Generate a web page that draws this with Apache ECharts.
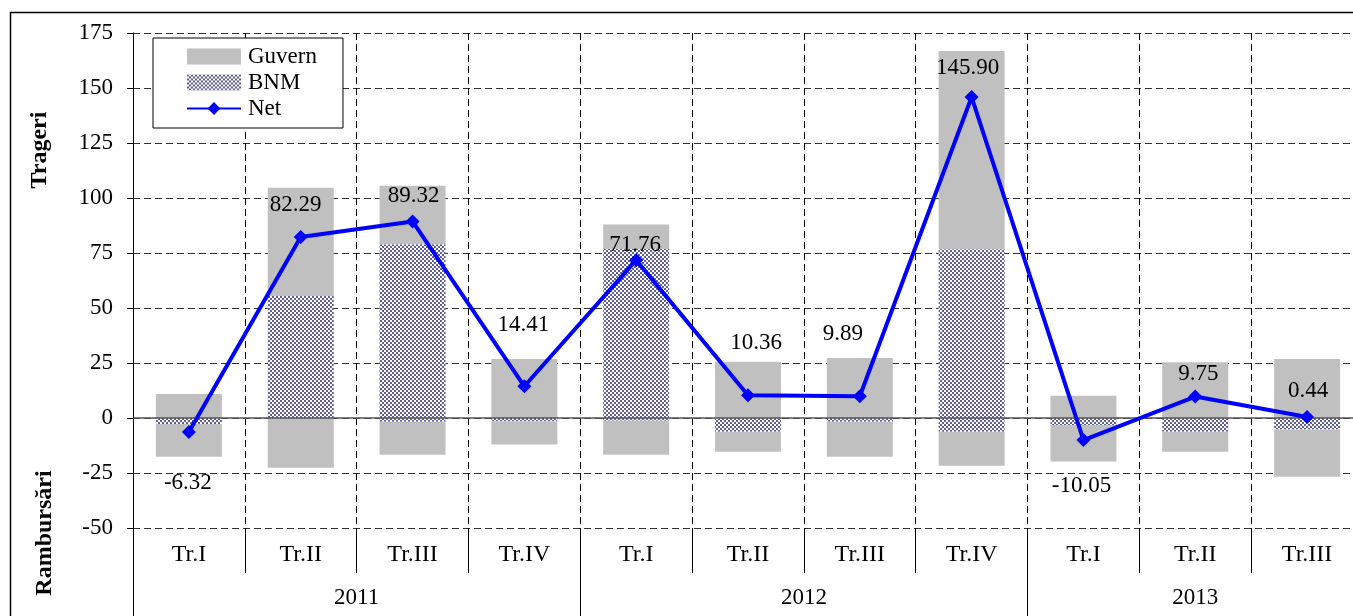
<!DOCTYPE html>
<html>
<head>
<meta charset="utf-8">
<script src="https://cdn.jsdelivr.net/npm/echarts@6/dist/echarts.min.js"></script>
<style>
  html, body { margin: 0; padding: 0; background: #fff; overflow: hidden; }
  #chart { width: 1372px; height: 616px; }
</style>
</head>
<body>
<div id="chart"></div>
<script>
const quarters = ['Tr.I', 'Tr.II', 'Tr.III', 'Tr.IV', 'Tr.I', 'Tr.II', 'Tr.III', 'Tr.IV', 'Tr.I', 'Tr.II', 'Tr.III']
const years = ['2011', '2012', '2013']
const quartersPerYear = [4, 4, 3]

// stacked from zero: BNM first, Guvern on top
const bnmTrageri = [0, 55.5, 79.0, 0, 76.8, 0, 0, 76.7, 0, 0, 0]
const guvernTrageri = [10.9, 49.2, 26.6, 26.8, 11.2, 25.6, 27.3, 90.1, 10.1, 25.3, 26.8]
const bnmRambursari = [-2.7, 0, -1.7, -1.5, -1.2, -6.2, -1.7, -6.2, -3.2, -6.2, -5.2]
const guvernRambursari = [-14.9, -22.6, -15.0, -10.6, -15.5, -9.1, -15.9, -15.5, -16.6, -9.1, -21.5]
const net = [-6.32, 82.29, 89.32, 14.41, 71.76, 10.36, 9.89, 145.90, -10.05, 9.75, 0.44]

const yTicks = { min: -50, max: 175, step: 25 }

// label placement next to each Net point (px)
const netLabelShift = [[-1, 51], [-5, -32], [1, -26], [-1, -61], [-1, -15], [8, -52], [-17, -62], [-4, -29], [-2, 46], [3, -23], [1, -26]]

const font = '"Liberation Serif", "Times New Roman", serif'

function checkerPattern() {
  const c = document.createElement('canvas')
  c.width = 4
  c.height = 4
  const ctx = c.getContext('2d')
  ctx.fillStyle = '#ffffff'
  ctx.fillRect(0, 0, 4, 4)
  ctx.fillStyle = '#5f5f9c'
  ctx.fillRect(0, 0, 2, 2)
  ctx.fillRect(2, 2, 2, 2)
  return { image: c, repeat: 'repeat' }
}
const bnmFill = checkerPattern()

// year centers / boundaries on a 0..n scale
const yearBounds = [0]
quartersPerYear.forEach((n) => yearBounds.push(yearBounds[yearBounds.length - 1] + n))
const yearCenters = years.map((y, i) => (yearBounds[i] + yearBounds[i + 1]) / 2)

const chart = echarts.init(document.getElementById('chart'))

const barBase = {
  type: 'bar',
  stack: 'total',
  barWidth: 66,
  xAxisIndex: 0,
  emphasis: { disabled: true }
}

chart.setOption({
  animation: false,
  textStyle: { fontFamily: font },
  grid: { left: 133, top: 33, width: 1230, height: 495, containLabel: false },
  legend: {
    left: 153,
    top: 38,
    orient: 'vertical',
    data: [
      { name: 'Guvern', icon: 'rect' },
      { name: 'BNM', icon: 'rect' },
      { name: 'Net' }
    ],
    backgroundColor: '#fff',
    borderColor: '#000',
    borderWidth: 1,
    padding: [7, 26, 8, 33],
    itemWidth: 54,
    itemHeight: 16,
    itemGap: 3,
    textStyle: { fontSize: 23, lineHeight: 22, fontFamily: font, color: '#000', padding: [0, 0, 0, 2] }
  },
  xAxis: [
    {
      type: 'category',
      data: quarters,
      position: 'bottom',
      axisLine: { show: true, onZero: false, lineStyle: { color: 'rgba(0,0,0,0)' } },
      axisTick: { show: true, length: 45, lineStyle: { color: '#000', width: 1 } },
      axisLabel: { margin: 15, fontSize: 24, color: '#000', fontFamily: font },
      splitLine: { show: true, lineStyle: { color: '#000', width: 1, type: [7, 4] } }
    },
    {
      type: 'value',
      min: 0,
      max: quarters.length,
      position: 'bottom',
      axisLine: { show: true, onZero: false, lineStyle: { color: 'rgba(0,0,0,0)' } },
      axisTick: { show: true, length: 88, customValues: yearBounds, lineStyle: { color: '#000', width: 1 } },
      axisLabel: {
        margin: 58,
        fontSize: 23,
        color: '#000',
        fontFamily: font,
        customValues: yearCenters,
        formatter: (v) => years[yearCenters.indexOf(v)] || ''
      },
      splitLine: { show: false }
    }
  ],
  yAxis: {
    type: 'value',
    min: yTicks.min,
    max: yTicks.max,
    interval: yTicks.step,
    axisLine: { show: true, lineStyle: { color: '#000', width: 1 } },
    axisTick: { show: true, length: 6, lineStyle: { color: '#000' } },
    axisLabel: { margin: 20, fontSize: 23, color: '#000', fontFamily: font },
    splitLine: { show: true, lineStyle: { color: '#333', width: 1, type: [7, 4] } }
  },
  graphic: [
    {
      type: 'rect',
      shape: { x: 10.5, y: 12.5, width: 1500, height: 800 },
      style: { fill: 'none', stroke: '#000', lineWidth: 1.5 },
      silent: true
    },
    {
      type: 'text',
      x: 40,
      y: 150,
      rotation: Math.PI / 2,
      style: { text: 'Trageri', font: 'bold 24px ' + font, fill: '#000', align: 'center', verticalAlign: 'middle' }
    },
    {
      type: 'text',
      x: 45,
      y: 533,
      rotation: Math.PI / 2,
      style: { text: 'Rambursări', font: 'bold 24px ' + font, fill: '#000', align: 'center', verticalAlign: 'middle' }
    }
  ],
  series: [
    Object.assign({}, barBase, { name: 'BNM', data: bnmTrageri, itemStyle: { color: bnmFill } }),
    Object.assign({}, barBase, { name: 'BNM', data: bnmRambursari, itemStyle: { color: bnmFill } }),
    Object.assign({}, barBase, { name: 'Guvern', data: guvernTrageri, itemStyle: { color: '#c0c0c0' } }),
    Object.assign({}, barBase, {
      name: 'Guvern',
      data: guvernRambursari,
      itemStyle: { color: '#c0c0c0' },
      markLine: {
        silent: true,
        symbol: 'none',
        label: { show: false },
        lineStyle: { color: '#555', width: 1.5, type: 'solid' },
        data: [{ yAxis: 0 }]
      }
    }),
    {
      name: 'Net',
      type: 'line',
      xAxisIndex: 0,
      z: 5,
      data: net.map((v, i) => ({
        value: v,
        label: { offset: netLabelShift[i] }
      })),
      symbol: 'diamond',
      symbolSize: 14,
      lineStyle: { color: '#0000ff', width: 4 },
      itemStyle: { color: '#0000ff' },
      label: {
        show: true,
        position: 'inside',
        fontSize: 23,
        color: '#000',
        fontFamily: font,
        formatter: (p) => p.value.toFixed(2)
      },
      emphasis: { disabled: true }
    }
  ]
})
</script>
</body>
</html>
